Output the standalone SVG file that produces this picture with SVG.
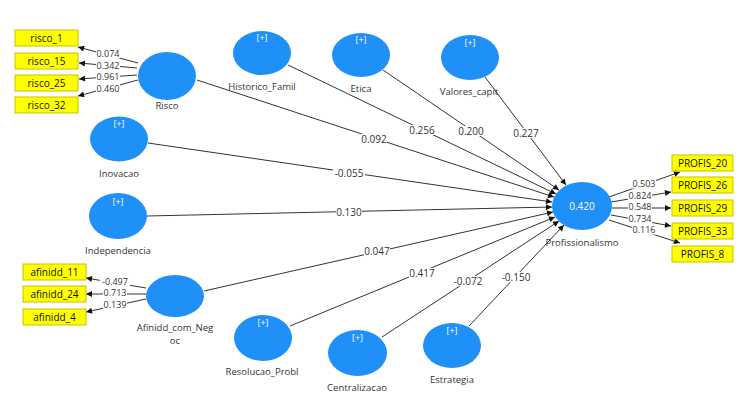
<svg xmlns="http://www.w3.org/2000/svg" width="750" height="402" viewBox="0 0 750 402">
<defs>
<marker id="ah" viewBox="0 0 10 10" refX="10" refY="5" markerWidth="7" markerHeight="6" markerUnits="userSpaceOnUse" orient="auto">
<path d="M0,0 L10,5 L0,10 z" fill="#111"/>
</marker>
<style>
.lv{fill:#1e90f8;}
.ind{fill:#ffff00;stroke:#c9c200;stroke-width:1;}
.it{font-family:"Open Sans","Noto Sans",sans-serif;font-size:10px;fill:#111;text-anchor:middle;}
.nl{font-family:"Open Sans","Noto Sans",sans-serif;font-size:9.5px;fill:#333;text-anchor:middle;}
.pl{font-family:"Open Sans","Noto Sans",sans-serif;font-size:9px;fill:#fff;text-anchor:middle;}
.el{font-family:"Open Sans","Noto Sans",sans-serif;font-size:9px;fill:#333;text-anchor:middle;}
.ei{font-family:"Open Sans","Noto Sans",sans-serif;font-size:10px;fill:#333;text-anchor:middle;}
.bg{fill:#fff;}
.ln{stroke:#333;stroke-width:1;fill:none;marker-end:url(#ah);}
</style>
</defs>
<rect width="750" height="402" fill="#fff"/>
<g id="connectors">
<line class="ln" x1="138" y1="63" x2="78" y2="47"/>
<line class="ln" x1="137" y1="68" x2="79" y2="63"/>
<line class="ln" x1="137" y1="75" x2="79" y2="79"/>
<line class="ln" x1="138" y1="80" x2="78" y2="96"/>
<line class="ln" x1="146" y1="288" x2="86" y2="278"/>
<line class="ln" x1="146" y1="294" x2="86" y2="294"/>
<line class="ln" x1="146" y1="299" x2="86" y2="312"/>
<line class="ln" x1="609" y1="197" x2="680" y2="172"/>
<line class="ln" x1="611" y1="202" x2="671" y2="192"/>
<line class="ln" x1="612" y1="208" x2="671" y2="208"/>
<line class="ln" x1="611" y1="215" x2="671" y2="226"/>
<line class="ln" x1="609" y1="220" x2="680" y2="243"/>
<line class="ln" x1="197" y1="80" x2="554" y2="197"/>
<line class="ln" x1="288" y1="65" x2="556" y2="194"/>
<line class="ln" x1="383" y1="70" x2="559" y2="190"/>
<line class="ln" x1="485" y1="77" x2="566" y2="185"/>
<line class="ln" x1="148" y1="143" x2="552" y2="202"/>
<line class="ln" x1="147" y1="216" x2="552" y2="207"/>
<line class="ln" x1="204" y1="291" x2="553" y2="212"/>
<line class="ln" x1="290" y1="326" x2="555" y2="217"/>
<line class="ln" x1="382" y1="337" x2="559" y2="221"/>
<line class="ln" x1="469" y1="326" x2="564" y2="225"/>
<rect class="bg" x="96" y="49.5" width="24" height="9"/><text class="el" x="108" y="57.2">0.074</text>
<rect class="bg" x="96" y="61" width="24" height="9"/><text class="el" x="108" y="68.7">0.342</text>
<rect class="bg" x="96" y="72.5" width="24" height="9"/><text class="el" x="108" y="80.2">0.961</text>
<rect class="bg" x="96" y="84" width="24" height="9"/><text class="el" x="108" y="91.7">0.460</text>
<rect class="bg" x="100" y="277" width="30" height="9"/><text class="el" x="115" y="284.7">-0.497</text>
<rect class="bg" x="103" y="288.5" width="24" height="9"/><text class="el" x="115" y="296.2">0.713</text>
<rect class="bg" x="103" y="300" width="24" height="9"/><text class="el" x="115" y="307.7">0.139</text>
<rect class="bg" x="632" y="179.5" width="24" height="9"/><text class="el" x="644" y="187.2">0.503</text>
<rect class="bg" x="628" y="191" width="24" height="9"/><text class="el" x="640" y="198.7">0.824</text>
<rect class="bg" x="628" y="202.5" width="24" height="9"/><text class="el" x="640" y="210.2">0.548</text>
<rect class="bg" x="628" y="214" width="24" height="9"/><text class="el" x="640" y="221.7">0.734</text>
<rect class="bg" x="632" y="225.5" width="24" height="9"/><text class="el" x="644" y="233.2">0.116</text>
<rect class="bg" x="361" y="134" width="26" height="10"/><text class="ei" x="374" y="142.5">0.092</text>
<rect class="bg" x="409" y="125" width="26" height="10"/><text class="ei" x="422" y="133.5">0.256</text>
<rect class="bg" x="458" y="126" width="26" height="10"/><text class="ei" x="471" y="134.5">0.200</text>
<rect class="bg" x="513" y="128" width="26" height="10"/><text class="ei" x="526" y="136.5">0.227</text>
<rect class="bg" x="333" y="168" width="32" height="10"/><text class="ei" x="349" y="176.5">-0.055</text>
<rect class="bg" x="336" y="207" width="26" height="10"/><text class="ei" x="349" y="215.5">0.130</text>
<rect class="bg" x="364" y="246" width="26" height="10"/><text class="ei" x="377" y="254.5">0.047</text>
<rect class="bg" x="409" y="268" width="26" height="10"/><text class="ei" x="422" y="276.5">0.417</text>
<rect class="bg" x="452" y="276" width="32" height="10"/><text class="ei" x="468" y="284.5">-0.072</text>
<rect class="bg" x="500" y="272" width="32" height="10"/><text class="ei" x="516" y="280.5">-0.150</text>
</g>
<g id="risco_1"><rect class="ind" x="15" y="30" width="63" height="16"/><text class="it" x="46.5" y="41.5">risco_1</text></g>
<g id="risco_15"><rect class="ind" x="15" y="53" width="63" height="16"/><text class="it" x="46.5" y="64.5">risco_15</text></g>
<g id="risco_25"><rect class="ind" x="15" y="75" width="63" height="16"/><text class="it" x="46.5" y="86.5">risco_25</text></g>
<g id="risco_32"><rect class="ind" x="15" y="97" width="63" height="16"/><text class="it" x="46.5" y="108.5">risco_32</text></g>
<g id="afinidd_11"><rect class="ind" x="23" y="264" width="63" height="16"/><text class="it" x="54.5" y="275.5">afinidd_11</text></g>
<g id="afinidd_24"><rect class="ind" x="23" y="286" width="63" height="16"/><text class="it" x="54.5" y="297.5">afinidd_24</text></g>
<g id="afinidd_4"><rect class="ind" x="23" y="309" width="63" height="16"/><text class="it" x="54.5" y="320.5">afinidd_4</text></g>
<g id="PROFIS_20"><rect class="ind" x="672" y="155" width="61" height="16"/><text class="it" x="702.5" y="166.5">PROFIS_20</text></g>
<g id="PROFIS_26"><rect class="ind" x="672" y="177" width="61" height="16"/><text class="it" x="702.5" y="188.5">PROFIS_26</text></g>
<g id="PROFIS_29"><rect class="ind" x="672" y="200" width="61" height="16"/><text class="it" x="702.5" y="211.5">PROFIS_29</text></g>
<g id="PROFIS_33"><rect class="ind" x="672" y="223" width="61" height="16"/><text class="it" x="702.5" y="234.5">PROFIS_33</text></g>
<g id="PROFIS_8"><rect class="ind" x="672" y="246" width="61" height="16"/><text class="it" x="702.5" y="257.5">PROFIS_8</text></g>
<g id="Risco"><ellipse class="lv" cx="167" cy="76" rx="29" ry="24"/><text class="nl" x="167" y="109">Risco</text></g>
<g id="Historico_Famil"><ellipse class="lv" cx="262" cy="53" rx="29" ry="22"/><text class="pl" x="262" y="41">[+]</text><text class="nl" x="262" y="90">Historico_Famil</text></g>
<g id="Etica"><ellipse class="lv" cx="361" cy="55" rx="29" ry="22"/><text class="pl" x="361" y="43">[+]</text><text class="nl" x="361" y="92">Etica</text></g>
<g id="Valores_capit"><ellipse class="lv" cx="470" cy="57.5" rx="29" ry="22.5"/><text class="pl" x="470" y="46">[+]</text><text class="nl" x="469" y="95">Valores_capit</text></g>
<g id="Inovacao"><ellipse class="lv" cx="119" cy="139" rx="29" ry="22.5"/><text class="pl" x="119" y="127">[+]</text><text class="nl" x="119" y="177">Inovacao</text></g>
<g id="Independencia"><ellipse class="lv" cx="118" cy="216" rx="29" ry="23"/><text class="pl" x="118" y="205">[+]</text><text class="nl" x="118" y="254">Independencia</text></g>
<g id="Afinidd_com_Negoc"><ellipse class="lv" cx="175" cy="296" rx="29" ry="21"/><text class="nl" x="175" y="331">Afinidd_com_Neg</text><text class="nl" x="175" y="343.5">oc</text></g>
<g id="Resolucao_Probl"><ellipse class="lv" cx="263" cy="338" rx="29" ry="23"/><text class="pl" x="263" y="326">[+]</text><text class="nl" x="262" y="375">Resolucao_Probl</text></g>
<g id="Centralizacao"><ellipse class="lv" cx="357.5" cy="353" rx="29.5" ry="23"/><text class="pl" x="357.5" y="341">[+]</text><text class="nl" x="357" y="391">Centralizacao</text></g>
<g id="Estrategia"><ellipse class="lv" cx="452" cy="345.5" rx="29" ry="22.5"/><text class="pl" x="452" y="334">[+]</text><text class="nl" x="452" y="383">Estrategia</text></g>
<g id="Profissionalismo"><ellipse class="lv" cx="582" cy="206" rx="30" ry="24"/><text class="pl" x="582" y="209.5" style="font-size:10px">0.420</text><text class="nl" x="582" y="246">Profissionalismo</text></g>
</svg>
